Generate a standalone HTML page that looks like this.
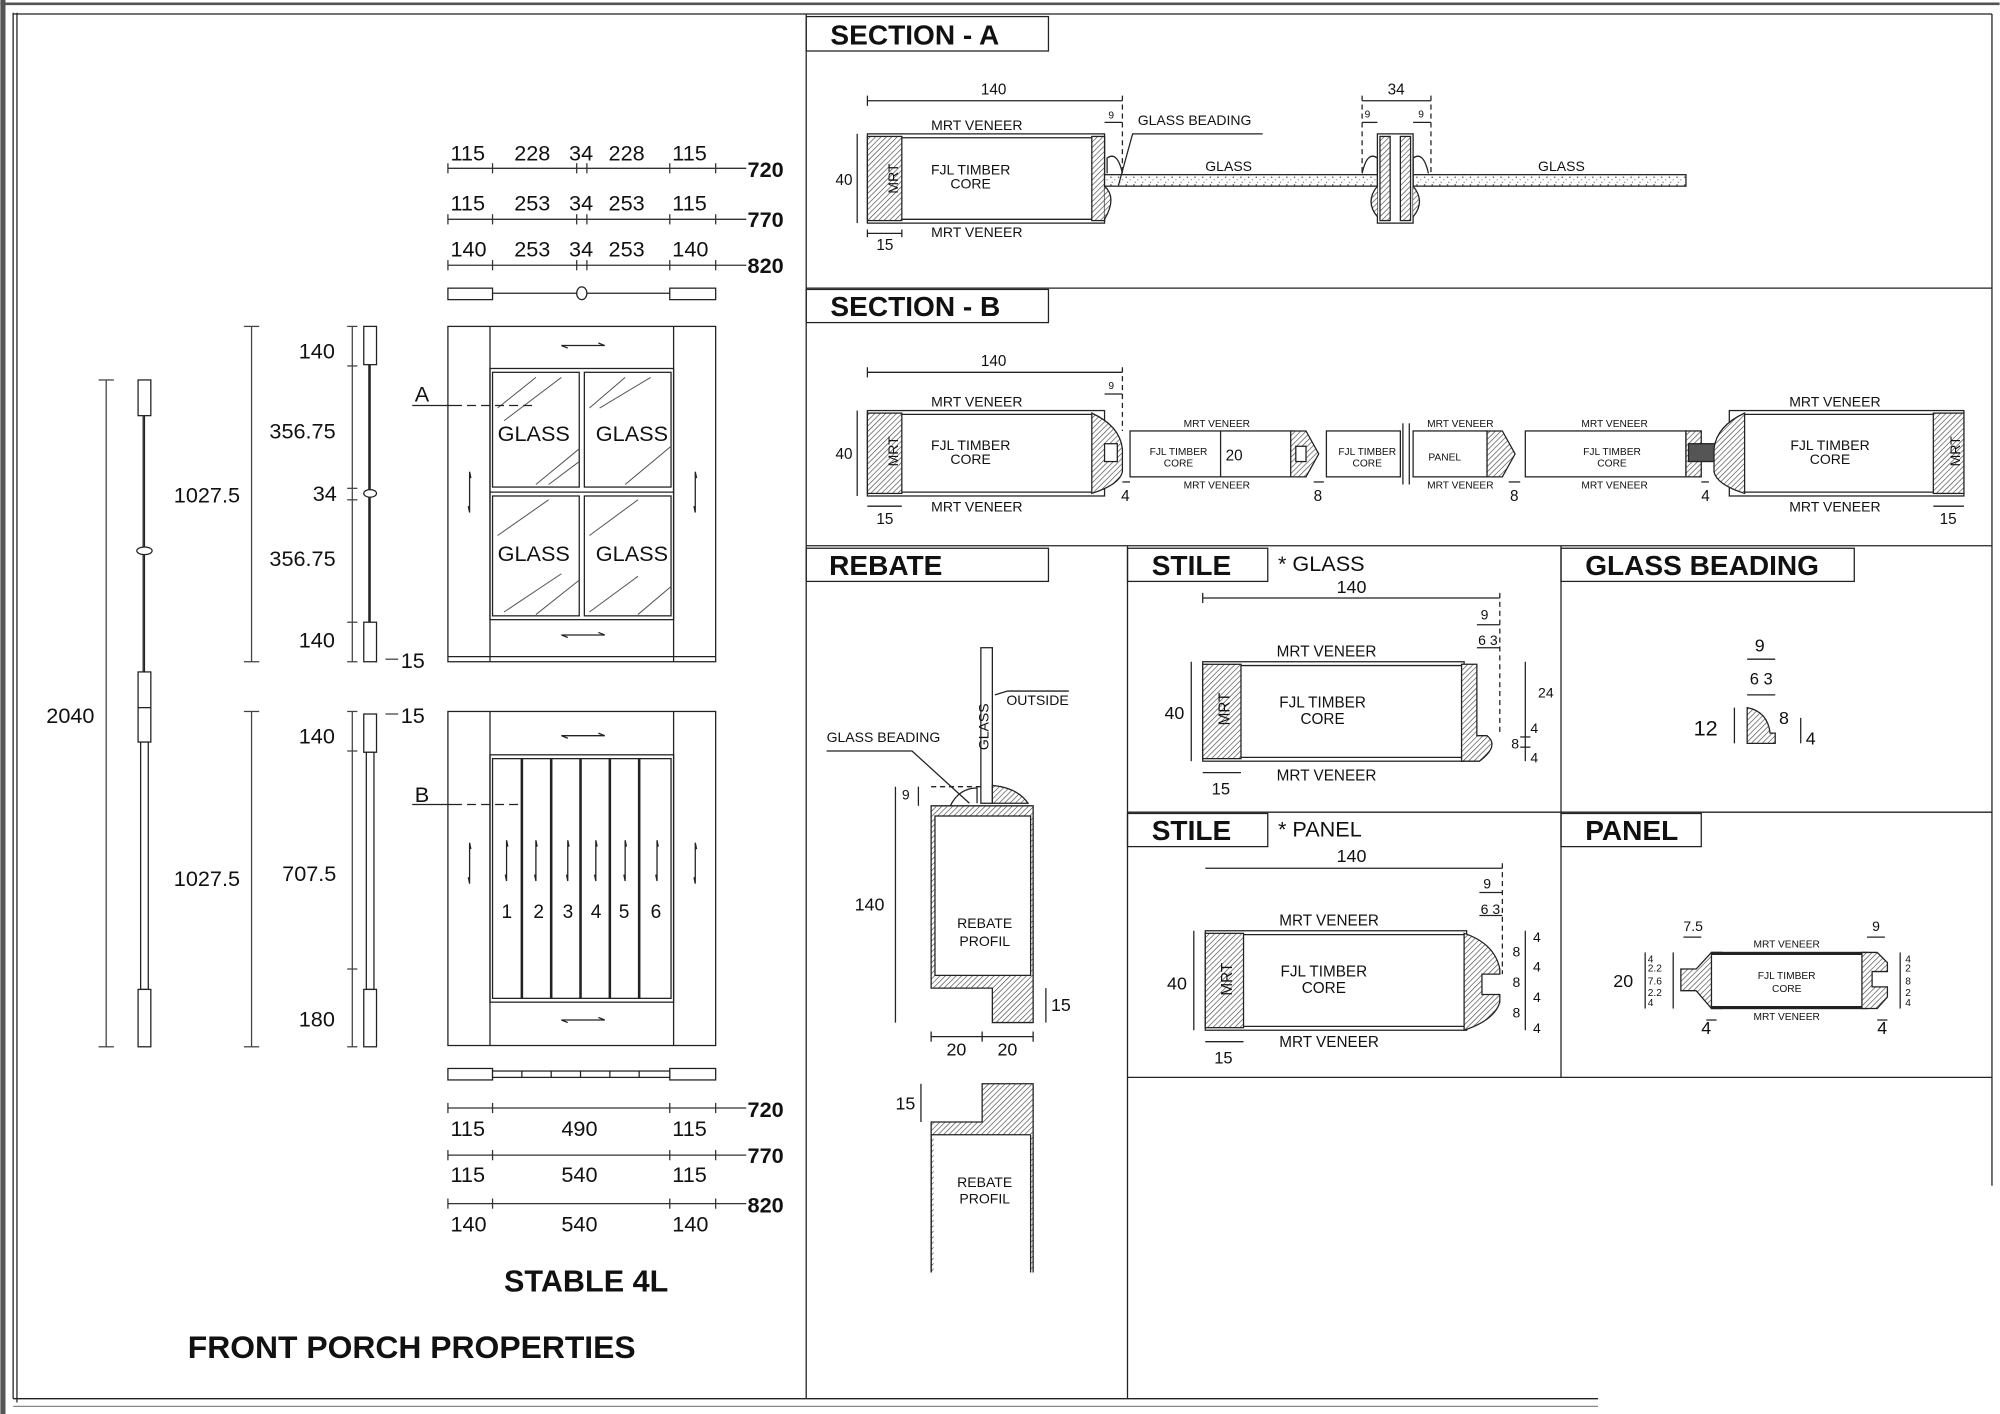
<!DOCTYPE html>
<html><head><meta charset="utf-8"><style>
html,body{margin:0;padding:0;background:#fff;}
svg{display:block;}
text{font-family:"Liberation Sans",sans-serif;fill:#111;}
.h{font-weight:bold;font-size:22px;}
.d{font-size:17px;}
.s{font-size:11px;}
.xs{font-size:8px;}
.b{font-weight:bold;font-size:17px;}
</style></head><body>
<svg width="2000" height="1414" viewBox="0 0 1568 1109" xmlns="http://www.w3.org/2000/svg">
<defs>
<pattern id="ht" width="3" height="3" patternUnits="userSpaceOnUse" patternTransform="rotate(45)"><rect width="3" height="3" fill="#fff"/><line x1="0" y1="0" x2="0" y2="3" stroke="#444" stroke-width="1"/></pattern>
<pattern id="gl" width="6" height="6" patternUnits="userSpaceOnUse"><rect width="6" height="6" fill="#fff"/><circle cx="1" cy="1" r="0.6" fill="#555"/><circle cx="4" cy="3" r="0.5" fill="#777"/><circle cx="2" cy="5" r="0.5" fill="#666"/></pattern>
<path id="ah" d="M-12 2 L-17 0 L17 0 L12 -2" fill="none" stroke="#222"/>
<path id="av" d="M1 -11 L0 -16 L0 16 L-1 11" fill="none" stroke="#222"/>
</defs>
<g fill="none" stroke="#222" stroke-width="1">
<rect x="0" y="0" width="4" height="1109" fill="#555" stroke="none"/>
<line x1="0" y1="3" x2="1568" y2="3" stroke="#555" stroke-width="2"/>
<line x1="10" y1="10" x2="10" y2="1097"/><line x1="13" y1="10" x2="13" y2="1100"/>
<line x1="10" y1="11" x2="1562" y2="11"/>
<line x1="10" y1="1097" x2="1253" y2="1097"/><line x1="10" y1="1103" x2="1253" y2="1103" stroke="#888"/>
<line x1="1562" y1="11" x2="1562" y2="930"/>
<line x1="632" y1="11" x2="632" y2="1097"/>
<rect x="632" y="13" width="190" height="27"/>
<line x1="632" y1="226" x2="1562" y2="226"/>
<rect x="632" y="227" width="190" height="26"/>
<line x1="632" y1="428" x2="1562" y2="428"/>
<rect x="632" y="430" width="190" height="26"/>
<line x1="884" y1="428" x2="884" y2="1097"/>
<rect x="884" y="430" width="110" height="26"/>
<line x1="1224" y1="428" x2="1224" y2="845"/>
<rect x="1224" y="430" width="230" height="26"/>
<line x1="884" y1="637" x2="1562" y2="637"/>
<rect x="884" y="638" width="110" height="26"/>
<rect x="1224" y="638" width="110" height="26"/>
<line x1="884" y1="845" x2="1562" y2="845"/>
</g>
<text x="651" y="35" class="h">SECTION - A</text>
<text x="651" y="248" class="h">SECTION - B</text>
<text x="650" y="451" class="h">REBATE</text>
<text x="903" y="451" class="h">STILE</text>
<text x="1002" y="448" class="d">* GLASS</text>
<text x="1243" y="451" class="h">GLASS BEADING</text>
<text x="903" y="659" class="h">STILE</text>
<text x="1002" y="656" class="d">* PANEL</text>
<text x="1243" y="659" class="h">PANEL</text>

<g stroke="#333" stroke-width="1">
<line x1="351" y1="132" x2="585" y2="132"/><line x1="351" y1="172" x2="585" y2="172"/><line x1="351" y1="208" x2="585" y2="208"/>
<g id="tk"><line x1="351" y1="128" x2="351" y2="136"/><line x1="386" y1="128" x2="386" y2="136"/><line x1="452" y1="128" x2="452" y2="136"/><line x1="460" y1="128" x2="460" y2="136"/><line x1="525" y1="128" x2="525" y2="136"/><line x1="561" y1="128" x2="561" y2="136"/></g>
<use href="#tk" y="40"/><use href="#tk" y="76"/>
<line x1="351" y1="869" x2="585" y2="869"/><line x1="351" y1="906" x2="585" y2="906"/><line x1="351" y1="944" x2="585" y2="944"/>
<g id="tb"><line x1="351" y1="865" x2="351" y2="873"/><line x1="386" y1="865" x2="386" y2="873"/><line x1="525" y1="865" x2="525" y2="873"/><line x1="561" y1="865" x2="561" y2="873"/></g>
<use href="#tb" y="37"/><use href="#tb" y="75"/>
</g>
<g class="d">
<text x="353" y="126" class="d">115</text><text x="403" y="126" class="d">228</text><text x="446" y="126" class="d">34</text><text x="477" y="126" class="d">228</text><text x="527" y="126" class="d">115</text>
<text x="353" y="165" class="d">115</text><text x="403" y="165" class="d">253</text><text x="446" y="165" class="d">34</text><text x="477" y="165" class="d">253</text><text x="527" y="165" class="d">115</text>
<text x="353" y="201" class="d">140</text><text x="403" y="201" class="d">253</text><text x="446" y="201" class="d">34</text><text x="477" y="201" class="d">253</text><text x="527" y="201" class="d">140</text>
<text x="353" y="891" class="d">115</text><text x="440" y="891" class="d">490</text><text x="527" y="891" class="d">115</text>
<text x="353" y="927" class="d">115</text><text x="440" y="927" class="d">540</text><text x="527" y="927" class="d">115</text>
<text x="353" y="966" class="d">140</text><text x="440" y="966" class="d">540</text><text x="527" y="966" class="d">140</text>
</g>
<text x="586" y="139" class="b">720</text><text x="586" y="178" class="b">770</text><text x="586" y="214" class="b">820</text>
<text x="586" y="876" class="b">720</text><text x="586" y="912" class="b">770</text><text x="586" y="951" class="b">820</text>

<g stroke="#222" fill="#fff">
<rect x="351" y="226" width="35" height="9"/><rect x="525" y="226" width="36" height="9"/>
<line x1="386" y1="230" x2="525" y2="230"/><ellipse cx="456" cy="230" rx="4" ry="5"/>
<rect x="351" y="838" width="35" height="9"/><rect x="525" y="838" width="36" height="9"/>
<rect x="386" y="840" width="139" height="5"/>
<line x1="409" y1="840" x2="409" y2="845"/><line x1="432" y1="840" x2="432" y2="845"/><line x1="455" y1="840" x2="455" y2="845"/><line x1="478" y1="840" x2="478" y2="845"/><line x1="501" y1="840" x2="501" y2="845"/>
</g>

<g stroke="#222" fill="none">
<rect x="351" y="256" width="210" height="263"/>
<line x1="384" y1="256" x2="384" y2="519"/><line x1="528" y1="256" x2="528" y2="519"/>
<line x1="351" y1="515" x2="561" y2="515"/>
<rect x="384" y="289" width="144" height="197"/>
<rect x="386" y="292" width="68" height="90"/><rect x="458" y="292" width="68" height="90"/>
<rect x="386" y="389" width="68" height="94"/><rect x="458" y="389" width="68" height="94"/>
<line x1="384" y1="386" x2="528" y2="386"/>
<g stroke="#555" stroke-width="0.8">
<line x1="390" y1="320" x2="420" y2="296"/><line x1="395" y1="330" x2="440" y2="296"/><line x1="420" y1="380" x2="454" y2="352"/><line x1="430" y1="380" x2="454" y2="362"/>
<line x1="462" y1="320" x2="490" y2="296"/><line x1="470" y1="320" x2="510" y2="296"/><line x1="490" y1="380" x2="526" y2="350"/>
<line x1="390" y1="420" x2="430" y2="392"/><line x1="395" y1="480" x2="440" y2="450"/><line x1="420" y1="482" x2="454" y2="455"/>
<line x1="462" y1="420" x2="500" y2="392"/><line x1="462" y1="480" x2="500" y2="452"/><line x1="500" y1="482" x2="526" y2="460"/>
</g>
<use href="#ah" x="457" y="271"/><use href="#ah" x="457" y="498"/>
<use href="#av" x="368" y="386"/><use href="#av" x="545" y="386"/>
<rect x="351" y="558" width="210" height="262"/>
<line x1="384" y1="558" x2="384" y2="820"/><line x1="528" y1="558" x2="528" y2="820"/>
<rect x="384" y="592" width="144" height="194"/>
<rect x="386" y="595" width="140" height="188"/>
<line x1="409" y1="595" x2="409" y2="783" stroke-width="2"/><line x1="432" y1="595" x2="432" y2="783" stroke-width="2"/><line x1="455" y1="595" x2="455" y2="783" stroke-width="2"/><line x1="478" y1="595" x2="478" y2="783" stroke-width="2"/><line x1="501" y1="595" x2="501" y2="783" stroke-width="2"/>
<use href="#ah" x="457" y="577"/><use href="#ah" x="457" y="800"/>
<use href="#av" x="368" y="677"/><use href="#av" x="545" y="677"/>
<use href="#av" x="397" y="675"/><use href="#av" x="420" y="675"/><use href="#av" x="445" y="675"/><use href="#av" x="467" y="675"/><use href="#av" x="490" y="675"/><use href="#av" x="515" y="675"/>
<line x1="323" y1="318" x2="355" y2="318"/><line x1="355" y1="318" x2="420" y2="318" stroke-dasharray="7,4"/>
<line x1="323" y1="631" x2="355" y2="631"/><line x1="355" y1="631" x2="406" y2="631" stroke-dasharray="7,4"/>
</g>
<text x="390" y="346" class="d">GLASS</text><text x="467" y="346" class="d">GLASS</text>
<text x="390" y="440" class="d">GLASS</text><text x="467" y="440" class="d">GLASS</text>
<text x="393" y="720" style="font-size:15px">1</text><text x="418" y="720" style="font-size:15px">2</text><text x="441" y="720" style="font-size:15px">3</text><text x="463" y="720" style="font-size:15px">4</text><text x="485" y="720" style="font-size:15px">5</text><text x="510" y="720" style="font-size:15px">6</text>
<text x="325" y="315" class="d">A</text><text x="325" y="629" class="d">B</text>

<g stroke="#222" fill="#fff">
<rect x="108" y="298" width="10" height="28"/><line x1="113" y1="326" x2="113" y2="527"/><line x1="112" y1="326" x2="112" y2="527"/><ellipse cx="113" cy="432" rx="6" ry="3"/>
<rect x="108" y="527" width="10" height="55"/><line x1="108" y1="555" x2="118" y2="555"/>
<rect x="110" y="582" width="6" height="194"/>
<rect x="108" y="776" width="10" height="45"/>
<rect x="285" y="256" width="10" height="30"/><line x1="290" y1="286" x2="290" y2="488"/><line x1="289" y1="286" x2="289" y2="488"/><ellipse cx="290" cy="387" rx="5" ry="3"/>
<rect x="285" y="488" width="10" height="31"/>
<rect x="285" y="560" width="10" height="30"/>
<rect x="287" y="590" width="6" height="186"/>
<rect x="285" y="776" width="10" height="45"/>
</g>
<g stroke="#444">
<line x1="83" y1="298" x2="83" y2="821"/><line x1="77" y1="298" x2="89" y2="298"/><line x1="77" y1="821" x2="89" y2="821"/>
<line x1="197" y1="256" x2="197" y2="519"/><line x1="191" y1="256" x2="203" y2="256"/><line x1="191" y1="519" x2="203" y2="519"/>
<line x1="197" y1="558" x2="197" y2="821"/><line x1="191" y1="558" x2="203" y2="558"/><line x1="191" y1="821" x2="203" y2="821"/>
<line x1="276" y1="256" x2="276" y2="519"/>
<line x1="272" y1="256" x2="280" y2="256"/><line x1="272" y1="287" x2="280" y2="287"/><line x1="272" y1="383" x2="280" y2="383"/><line x1="272" y1="392" x2="280" y2="392"/><line x1="272" y1="488" x2="280" y2="488"/><line x1="272" y1="519" x2="280" y2="519"/>
<line x1="276" y1="558" x2="276" y2="821"/>
<line x1="272" y1="558" x2="280" y2="558"/><line x1="272" y1="589" x2="280" y2="589"/><line x1="272" y1="760" x2="280" y2="760"/><line x1="272" y1="821" x2="280" y2="821"/>
<line x1="302" y1="517" x2="312" y2="517"/><line x1="302" y1="560" x2="312" y2="560"/>
</g>
<text x="36" y="567" class="d">2040</text>
<text x="136" y="394" class="d">1027.5</text><text x="136" y="695" class="d">1027.5</text>
<text x="234" y="281" class="d">140</text><text x="211" y="344" class="d">356.75</text><text x="245" y="393" class="d">34</text><text x="211" y="444" class="d">356.75</text><text x="234" y="508" class="d">140</text>
<text x="234" y="583" class="d">140</text><text x="221" y="691" class="d">707.5</text><text x="234" y="805" class="d">180</text>
<text x="314" y="524" class="d">15</text><text x="314" y="567" class="d">15</text>
<text x="395" y="1013" style="font-weight:bold;font-size:24px">STABLE 4L</text>
<text x="147" y="1065" style="font-weight:bold;font-size:25px">FRONT PORCH PROPERTIES</text>

<g stroke="#222">
<rect x="680" y="105" width="186" height="70" fill="#fff"/>
<rect x="680" y="107" width="27" height="66" fill="url(#ht)"/>
<rect x="856" y="107" width="10" height="66" fill="url(#ht)"/>
<path d="M866 146 Q876 155 866 172" fill="url(#ht)"/>
<line x1="707" y1="108" x2="856" y2="108"/><line x1="707" y1="172" x2="856" y2="172"/>
<rect x="866" y="137" width="214" height="9" fill="url(#gl)"/>
<rect x="1108" y="137" width="214" height="9" fill="url(#gl)"/>
<rect x="1080" y="105" width="28" height="70" fill="#fff"/>
<rect x="1082" y="107" width="8" height="66" fill="url(#ht)"/><rect x="1098" y="107" width="8" height="66" fill="url(#ht)"/>
<path d="M1080 146 Q1070 158 1080 170 M1108 146 Q1118 158 1108 170" fill="url(#ht)"/>
<path d="M868 136 V124 Q876 118 880 136" fill="none"/><path d="M1080 136 V124 Q1072 118 1068 136" fill="none"/><path d="M1108 136 V124 Q1116 118 1120 136" fill="none"/>
<line x1="680" y1="79" x2="880" y2="79"/><line x1="680" y1="75" x2="680" y2="83"/>
<line x1="880" y1="75" x2="880" y2="137" stroke-dasharray="4,3"/>
<line x1="866" y1="96" x2="880" y2="96"/>
<line x1="1068" y1="79" x2="1122" y2="79"/>
<line x1="1068" y1="75" x2="1068" y2="137" stroke-dasharray="4,3"/><line x1="1122" y1="75" x2="1122" y2="137" stroke-dasharray="4,3"/>
<line x1="1068" y1="96" x2="1080" y2="96"/><line x1="1108" y1="96" x2="1122" y2="96"/>
<line x1="672" y1="105" x2="672" y2="175"/>
<line x1="680" y1="183" x2="707" y2="183"/><line x1="680" y1="180" x2="680" y2="186"/><line x1="707" y1="180" x2="707" y2="186"/>
<path d="M877 145 L888 105 L990 105" fill="none"/>
</g>
<text x="694" y="150" class="s" transform="rotate(-90 694 140)" text-anchor="middle">MRT</text>
<text x="730" y="102" class="s">MRT VENEER</text><text x="730" y="186" class="s">MRT VENEER</text>
<text x="761" y="137" class="s" text-anchor="middle">FJL TIMBER</text><text x="761" y="148" class="s" text-anchor="middle">CORE</text>
<text x="769" y="74" class="s" style="font-size:12px">140</text><text x="869" y="93" class="xs">9</text>
<text x="892" y="98" class="s">GLASS BEADING</text><text x="945" y="134" class="s">GLASS</text><text x="1206" y="134" class="s">GLASS</text>
<text x="1088" y="74" class="s" style="font-size:12px">34</text><text x="1070" y="92" class="xs">9</text><text x="1112" y="92" class="xs">9</text>
<text x="655" y="145" class="s" style="font-size:12px">40</text><text x="687" y="196" class="s" style="font-size:12px">15</text>

<g stroke="#222">
<rect x="680" y="322" width="186" height="67" fill="#fff"/>
<rect x="680" y="324" width="27" height="63" fill="url(#ht)"/>
<path d="M856 324 Q878 334 880 352 V370 Q878 380 856 387 Z" fill="url(#ht)"/>
<line x1="707" y1="325" x2="856" y2="325"/><line x1="707" y1="386" x2="856" y2="386"/>
<rect x="866" y="348" width="10" height="14" fill="#fff"/>
<rect x="886" y="338" width="128" height="36" fill="#fff"/>
<line x1="957" y1="338" x2="957" y2="374"/>
<path d="M1012 338 L1024 338 L1034 356 L1024 374 L1012 374 Z" fill="url(#ht)"/>
<rect x="1016" y="350" width="8" height="12" fill="#fff"/>
<rect x="1040" y="338" width="58" height="36" fill="#fff"/>
<line x1="1100" y1="332" x2="1100" y2="380"/><line x1="1105" y1="332" x2="1105" y2="380"/>
<rect x="1108" y="338" width="58" height="36" fill="#fff"/>
<path d="M1166 338 L1178 338 L1188 356 L1178 374 L1166 374 Z" fill="url(#ht)"/>
<rect x="1196" y="338" width="126" height="36" fill="#fff"/>
<rect x="1322" y="338" width="12" height="36" fill="url(#ht)"/>
<rect x="1324" y="348" width="22" height="14" fill="#555"/>
<rect x="1356" y="322" width="184" height="67" fill="#fff"/>
<path d="M1368 324 Q1346 334 1344 352 V370 Q1346 380 1368 387 Z" fill="url(#ht)"/>
<rect x="1516" y="324" width="24" height="63" fill="url(#ht)"/>
<line x1="1368" y1="325" x2="1516" y2="325"/><line x1="1368" y1="386" x2="1516" y2="386"/>
<line x1="680" y1="292" x2="880" y2="292"/><line x1="680" y1="288" x2="680" y2="296"/>
<line x1="880" y1="288" x2="880" y2="338" stroke-dasharray="4,3"/><line x1="866" y1="309" x2="880" y2="309"/>
<line x1="672" y1="322" x2="672" y2="389"/>
<line x1="680" y1="397" x2="707" y2="397"/><line x1="1516" y1="397" x2="1540" y2="397"/>
<line x1="880" y1="378" x2="886" y2="378"/><line x1="1030" y1="378" x2="1038" y2="378"/><line x1="1183" y1="378" x2="1192" y2="378"/><line x1="1334" y1="378" x2="1340" y2="378"/>
</g>
<text x="694" y="364" class="s" transform="rotate(-90 694 354)" text-anchor="middle">MRT</text>
<text x="1527" y="364" class="s" transform="rotate(-90 1527 354)" text-anchor="middle">MRT</text>
<text x="730" y="319" class="s">MRT VENEER</text><text x="730" y="401" class="s">MRT VENEER</text>
<text x="761" y="353" class="s" text-anchor="middle">FJL TIMBER</text><text x="761" y="364" class="s" text-anchor="middle">CORE</text>
<text x="1435" y="353" class="s" text-anchor="middle">FJL TIMBER</text><text x="1435" y="364" class="s" text-anchor="middle">CORE</text>
<text x="1403" y="319" class="s">MRT VENEER</text><text x="1403" y="401" class="s">MRT VENEER</text>
<text x="928" y="335" class="xs">MRT VENEER</text><text x="928" y="383" class="xs">MRT VENEER</text>
<text x="924" y="357" class="xs" text-anchor="middle">FJL TIMBER</text><text x="924" y="366" class="xs" text-anchor="middle">CORE</text>
<text x="961" y="361" class="s" style="font-size:12px">20</text>
<text x="1072" y="357" class="xs" text-anchor="middle">FJL TIMBER</text><text x="1072" y="366" class="xs" text-anchor="middle">CORE</text>
<text x="1120" y="361" class="xs">PANEL</text>
<text x="1119" y="335" class="xs">MRT VENEER</text><text x="1119" y="383" class="xs">MRT VENEER</text>
<text x="1240" y="335" class="xs">MRT VENEER</text><text x="1240" y="383" class="xs">MRT VENEER</text>
<text x="1264" y="357" class="xs" text-anchor="middle">FJL TIMBER</text><text x="1264" y="366" class="xs" text-anchor="middle">CORE</text>
<text x="769" y="287" class="s" style="font-size:12px">140</text><text x="869" y="305" class="xs">9</text>
<text x="655" y="360" class="s" style="font-size:12px">40</text><text x="687" y="411" class="s" style="font-size:12px">15</text><text x="1521" y="411" class="s" style="font-size:12px">15</text>
<text x="879" y="393" class="s" style="font-size:12px">4</text><text x="1030" y="393" class="s" style="font-size:12px">8</text><text x="1184" y="393" class="s" style="font-size:12px">8</text><text x="1334" y="393" class="s" style="font-size:12px">4</text>

<g stroke="#222">
<rect x="769" y="508" width="9" height="122" fill="#fff"/>
<path d="M730 632 H810 V802 H778 V775 H730 Z" fill="url(#ht)"/>
<rect x="733" y="640" width="75" height="125" fill="#fff"/>
<path d="M778 630 V616 Q798 618 806 630 Z" fill="url(#ht)"/>
<path d="M745 632 Q752 618 766 618 V630" fill="none"/>
<path d="M730 617 H769" stroke-dasharray="4,3" fill="none"/>
<path d="M648 589 H715 L760 630" fill="none"/>
<path d="M780 545 L790 542 H838" fill="none"/>
<line x1="702" y1="617" x2="702" y2="802"/><line x1="720" y1="617" x2="720" y2="632"/>
<line x1="730" y1="813" x2="810" y2="813"/><line x1="730" y1="809" x2="730" y2="817"/><line x1="770" y1="809" x2="770" y2="817"/><line x1="810" y1="809" x2="810" y2="817"/>
<line x1="820" y1="775" x2="820" y2="802"/>
<path d="M730 998 V880 H770 V850 H810 V998" fill="url(#ht)"/>
<rect x="732" y="890" width="76" height="108" fill="#fff" stroke="none"/>
<path d="M730 998 V890 M808 890 V998 M730 890 H808" fill="none"/>
<line x1="722" y1="850" x2="722" y2="880"/>
</g>
<text x="765" y="580" class="s" transform="rotate(-90 765 570)" text-anchor="middle">GLASS</text>
<text x="789" y="553" class="s">OUTSIDE</text><text x="648" y="582" class="s">GLASS BEADING</text>
<text x="707" y="627" class="s">9</text><text x="670" y="714" class="d" style="font-size:14px">140</text>
<text x="772" y="728" class="s" text-anchor="middle">REBATE</text><text x="772" y="742" class="s" text-anchor="middle">PROFIL</text>
<text x="824" y="793" class="d" style="font-size:14px">15</text>
<text x="742" y="828" class="d" style="font-size:14px">20</text><text x="782" y="828" class="d" style="font-size:14px">20</text>
<text x="702" y="870" class="d" style="font-size:14px">15</text>
<text x="772" y="931" class="s" text-anchor="middle">REBATE</text><text x="772" y="944" class="s" text-anchor="middle">PROFIL</text>

<g stroke="#222">
<rect x="943" y="519" width="205" height="78" fill="#fff"/>
<rect x="943" y="521" width="30" height="74" fill="url(#ht)"/>
<path d="M1146 521 H1158 V577 H1166 Q1176 585 1160 597 H1146 Z" fill="url(#ht)"/>
<line x1="973" y1="522" x2="1146" y2="522"/><line x1="973" y1="594" x2="1146" y2="594"/>
<line x1="943" y1="469" x2="1176" y2="469"/><line x1="943" y1="465" x2="943" y2="473"/>
<line x1="1176" y1="465" x2="1176" y2="577" stroke-dasharray="4,3"/>
<line x1="1158" y1="490" x2="1176" y2="490"/><line x1="1158" y1="508" x2="1176" y2="508"/>
<line x1="934" y1="519" x2="934" y2="597"/>
<line x1="943" y1="606" x2="973" y2="606"/>
<line x1="1196" y1="519" x2="1196" y2="597"/><line x1="1192" y1="578" x2="1200" y2="578"/><line x1="1192" y1="586" x2="1200" y2="586"/>
</g>
<text x="958" y="562" class="s" transform="rotate(-90 958 556)" text-anchor="middle" style="font-size:12px">MRT</text>
<text x="1001" y="515" class="s" style="font-size:12px">MRT VENEER</text><text x="1001" y="612" class="s" style="font-size:12px">MRT VENEER</text>
<text x="1037" y="555" class="s" text-anchor="middle" style="font-size:12px">FJL TIMBER</text><text x="1037" y="568" class="s" text-anchor="middle" style="font-size:12px">CORE</text>
<text x="1048" y="465" class="d" style="font-size:14px">140</text><text x="1161" y="486" class="s">9</text><text x="1159" y="506" class="s">6 3</text>
<text x="913" y="564" class="d" style="font-size:14px">40</text><text x="950" y="623" class="d" style="font-size:13px">15</text>
<text x="1206" y="547" class="s">24</text><text x="1200" y="575" class="s">4</text><text x="1185" y="587" class="s">8</text><text x="1200" y="598" class="s">4</text>

<g stroke="#222">
<path d="M1370 583 V555 Q1386 558 1388 575 H1392 V583 Z" fill="url(#ht)"/>
<line x1="1370" y1="517" x2="1392" y2="517"/><line x1="1370" y1="545" x2="1392" y2="545"/>
<line x1="1360" y1="555" x2="1360" y2="583"/><line x1="1412" y1="563" x2="1412" y2="583"/>
</g>
<text x="1376" y="511" class="d" style="font-size:14px">9</text><text x="1372" y="537" class="d" style="font-size:13px">6 3</text>
<text x="1328" y="577" class="d">12</text><text x="1395" y="568" class="d" style="font-size:14px">8</text><text x="1416" y="584" class="d" style="font-size:14px">4</text>

<g stroke="#222">
<rect x="945" y="730" width="205" height="78" fill="#fff"/>
<rect x="945" y="732" width="30" height="74" fill="url(#ht)"/>
<path d="M1148 732 Q1172 740 1176 760 V764 H1162 V780 H1176 V786 Q1172 800 1148 808 Z" fill="url(#ht)"/>
<line x1="975" y1="733" x2="1148" y2="733"/><line x1="975" y1="805" x2="1148" y2="805"/>
<line x1="945" y1="681" x2="1178" y2="681"/>
<line x1="1178" y1="677" x2="1178" y2="764" stroke-dasharray="4,3"/>
<line x1="1160" y1="700" x2="1178" y2="700"/><line x1="1160" y1="718" x2="1178" y2="718"/>
<line x1="936" y1="730" x2="936" y2="808"/>
<line x1="945" y1="817" x2="975" y2="817"/>
<line x1="1196" y1="730" x2="1196" y2="808"/>
</g>
<text x="960" y="774" class="s" transform="rotate(-90 960 768)" text-anchor="middle" style="font-size:12px">MRT</text>
<text x="1003" y="726" class="s" style="font-size:12px">MRT VENEER</text><text x="1003" y="821" class="s" style="font-size:12px">MRT VENEER</text>
<text x="1038" y="766" class="s" text-anchor="middle" style="font-size:12px">FJL TIMBER</text><text x="1038" y="779" class="s" text-anchor="middle" style="font-size:12px">CORE</text>
<text x="1048" y="676" class="d" style="font-size:14px">140</text><text x="1163" y="697" class="s">9</text><text x="1161" y="717" class="s">6 3</text>
<text x="915" y="776" class="d" style="font-size:14px">40</text><text x="952" y="834" class="d" style="font-size:13px">15</text>
<text x="1202" y="739" class="s">4</text><text x="1186" y="750" class="s">8</text><text x="1202" y="762" class="s">4</text><text x="1186" y="774" class="s">8</text><text x="1202" y="786" class="s">4</text><text x="1186" y="798" class="s">8</text><text x="1202" y="810" class="s">4</text>

<g stroke="#222">
<path d="M1318 760 H1330 L1342 747 H1350 V791 H1342 L1330 777 H1318 Z" fill="url(#ht)"/>
<rect x="1342" y="747" width="122" height="44" fill="#fff"/>
<line x1="1342" y1="748" x2="1462" y2="748" stroke-width="2"/><line x1="1342" y1="790" x2="1462" y2="790" stroke-width="2"/>
<path d="M1460 747 H1472 L1480 755 V762 H1468 V774 H1480 V782 L1472 791 H1460 Z" fill="url(#ht)"/>
<line x1="1320" y1="735" x2="1334" y2="735"/><line x1="1464" y1="735" x2="1478" y2="735"/>
<line x1="1290" y1="747" x2="1290" y2="791"/><line x1="1312" y1="747" x2="1312" y2="791"/><line x1="1490" y1="747" x2="1490" y2="791"/>
<line x1="1338" y1="800" x2="1346" y2="800"/><line x1="1472" y1="800" x2="1480" y2="800"/>
</g>
<text x="1320" y="730" class="s">7.5</text><text x="1468" y="730" class="s">9</text>
<text x="1401" y="743" class="xs" text-anchor="middle">MRT VENEER</text><text x="1401" y="800" class="xs" text-anchor="middle">MRT VENEER</text>
<text x="1401" y="768" class="xs" text-anchor="middle">FJL TIMBER</text><text x="1401" y="778" class="xs" text-anchor="middle">CORE</text>
<text x="1265" y="774" class="d" style="font-size:14px">20</text>
<text x="1292" y="755" class="xs">4</text><text x="1292" y="762" class="xs">2.2</text><text x="1292" y="772" class="xs">7.6</text><text x="1292" y="781" class="xs">2.2</text><text x="1292" y="789" class="xs">4</text>
<text x="1494" y="755" class="xs">4</text><text x="1494" y="762" class="xs">2</text><text x="1494" y="772" class="xs">8</text><text x="1494" y="781" class="xs">2</text><text x="1494" y="789" class="xs">4</text>
<text x="1334" y="811" class="d" style="font-size:14px">4</text><text x="1472" y="811" class="d" style="font-size:14px">4</text>
</svg>
</body></html>
